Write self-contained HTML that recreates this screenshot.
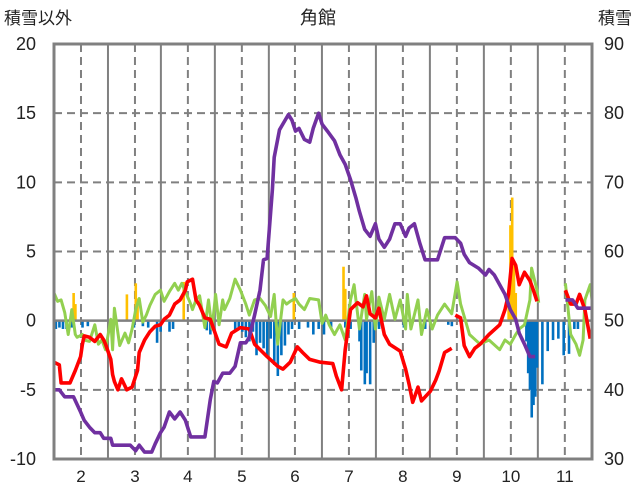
<!DOCTYPE html>
<html><head><meta charset="utf-8">
<style>
html,body{margin:0;padding:0;background:#fff;}
svg{display:block;font-family:"Liberation Sans","Noto Sans CJK JP",sans-serif;}
</style></head>
<body>
<svg id="chart" width="636" height="501" viewBox="0 0 636 501">
<text x="318" y="24" font-size="18" text-anchor="middle" fill="#222">角館</text>
<text x="4" y="24" font-size="17" fill="#222">積雪以外</text>
<text x="632" y="24" font-size="17" fill="#222" text-anchor="end">積雪</text>
</svg>
<script>
const leftTicks=[20,15,10,5,0,-5,-10];
const rightTicks=[90,80,70,60,50,40,30];
const monthLabels=["2","3","4","5","6","7","8","9","10","11"];
const monthCenters=[46.2,76.6,106.4,136.8,166.7,197.1,227.5,257.9,288.3,318.7];
const monthBounds=[61.4,91.2,121.6,152,181.9,212.3,242.7,273.1,303.5];

const purpleDays=[31,34,37,42,46,48,51,54,57,59,63,64,74,77,79,82,86,88,91,93,96,99,102,105,108,116,119,121,123,126,130,133,136,139,141,144,147,149,151,154,155,158,163,165,167,169,172,175,177,180,182,185,189,192,195,198,201,203,206,209,212,214,217,220,223,226,229,231,234,237,240,247,251,257,260,262,265,270,274,276,279,285,288,291,293,296,299,302,null,319,323,326,334];
const purpleVals=[-5,-5,-5.5,-5.5,-6.6,-7.2,-7.7,-8.1,-8.1,-8.5,-8.5,-9,-9,-9.4,-9,-9.5,-9.5,-8.9,-8.1,-7.7,-6.6,-7.1,-6.6,-7.2,-8.4,-8.4,-5.7,-4.4,-4.5,-3.8,-3.8,-3.3,-1.6,-1.6,-1.2,0.4,2.2,4.4,4.5,9.5,11.8,13.8,14.9,14.5,13.7,13.9,13.1,12.9,13.9,15,14.2,13.7,13,12,11.3,10.2,8.9,7.9,6.6,6.1,7,5.9,5.3,5.9,7,7,6.1,6.7,7,5.6,4.4,4.4,6,6,5.6,4.8,4.2,3.8,3.3,3.7,3.3,1.9,0.8,0.1,-0.9,-1.7,-2.6,-2.6,null,1.5,1.5,0.9,0.9];

const redDays=[31,34,35,40,43,46,47,48,51,54,57,59,60,63,64,65,67,69,72,75,78,79,82,85,88,91,93,96,99,102,105,106,109,111,113,116,119,122,124,128,131,136,141,144,151,157,160,164,168,171,175,181,188,190,193,195,198,202,205,207,209,212,214,217,220,226,229,231,233,236,238,243,246,248,251,255,null,257,260,262,265,268,271,276,282,285,287,289,291,293,296,299,301,303,null,319,322,325,327,330,333];
const redVals=[-3,-3.2,-4.5,-4.5,-3.6,-2.6,-1.7,-1.1,-1.2,-1.5,-1,-1.4,-1.7,-2.8,-3.9,-4.4,-5,-4.2,-5,-4.8,-3.6,-2.3,-1.4,-0.8,-0.4,-0.3,0.1,0.4,1.2,1.5,2.2,2.8,3,1.5,1.1,0.2,0.1,-1,-1.7,-1.9,-0.9,-0.5,-0.6,-1.7,-2.6,-3.3,-3.5,-3,-1.9,-2.3,-2.8,-3,-3.1,-4,-5,-2.1,0.8,1.3,1,1.8,0.5,0.2,0.9,-1,-1.7,-2.2,-3.5,-4.6,-5.9,-4.8,-5.8,-5.1,-4.3,-3.6,-2.3,-2,null,0.4,0.2,-1.8,-2.6,-2,-1.7,-1,-0.3,0.8,1.9,4.5,4,2.6,3.5,2.9,2.2,1.4,null,2.2,1.2,1.2,1.9,0.8,-1.3];

const greenDays=[31,33,35,37,39,41,43,44,47,48,51,54,56,58,60,63,64,65,68,71,73,75,77,79,81,83,85,88,91,93,96,99,101,103,105,108,109,111,113,116,118,120,122,124,126,127,130,133,136,139,141,144,147,150,153,155,157,160,162,164,167,169,172,175,180,182,184,186,189,192,195,198,200,203,206,207,210,212,214,217,220,223,226,229,230,232,236,238,241,244,247,251,255,258,260,265,271,276,282,285,288,291,293,296,299,300,303,304,null,319,322,325,327,329,330,333,334];
const greenVals=[2,1.4,1.5,0.6,-1,0.8,-1,-1.2,-1,-1.4,-1.5,-0.3,-1.7,-1.4,-2.1,0.1,-2.1,0.9,-1.8,-0.9,-1.6,-0.6,0.8,1.6,-0.1,0.4,1.1,1.9,2.2,1.4,2.1,2.7,2.2,2.7,2.1,1.2,0.8,1.5,1.8,-0.5,1.5,-0.6,1.9,-0.3,1.5,0.8,1.6,3,2.2,1.2,0.4,1.5,1.6,1.1,0.3,1.9,-1.7,1.5,1.2,1.4,1.6,1.2,0.8,1.6,1.5,-0.2,0.4,-0.3,-1,-0.3,-1.4,1.5,2.6,-0.6,1.9,0.1,2.1,-0.6,1.7,0.1,1.9,0.1,1.5,-0.6,1.9,-0.6,1.5,-1,0.8,-0.6,0.4,1.2,0.5,2.8,1.2,-1,-1.7,-1.4,-2.1,-1.4,-1.7,-1,-0.6,-0.3,1.5,3.8,2.2,1.3,null,2.7,-1,-1.7,-2.5,-1.4,1.5,2.6,1.5];

const barDays=[42,43,72,77,78,104,166,194,195,287,288,289,290,291,32,34,36,38,41,47,50,76,81,84,89,91,96,98,117,119,133,135,137,139,141,143,145,147,149,151,153,155,157,159,161,163,165,169,174,177,180,183,187,195,198,203,204,206,207,209,211,214,228,240,253,255,297,298,299,300,301,302,303,306,309,312,315,318,321,324,326];
const barVals=[2,1.2,1.9,2.7,1.6,2.8,2,3.9,2.3,2.2,6.9,8.9,4,2,-0.6,-0.5,-0.6,-0.6,-0.5,-0.5,-0.4,-0.5,-0.4,-0.5,-1.6,-0.8,-0.8,-0.6,-0.7,-1,-0.7,-0.5,-0.8,-1.2,-1.5,-0.8,-2.5,-1.6,-2,-2.6,-1.3,-3.2,-4,-2.5,-1.8,-1,-0.6,-0.6,-0.5,-1,-0.6,-1,-0.5,-0.5,-0.6,-1.5,-3.6,-4.6,-3.8,-4.6,-1.6,-0.6,-0.5,-0.6,-0.3,-0.4,-1.5,-3.8,-5,-7,-6.1,-5.5,-3.4,-4.6,-2.2,-1.4,-1.3,-2.5,-2.4,-0.6,-0.6];

const X0=54,X1=592,Y0=44,Y1=459;
const xS=d=>X0+(d-31)*(X1-X0)/303;
const yS=v=>Y1-(v+10)*(Y1-Y0)/30;
const svg=document.getElementById('chart');
const NS="http://www.w3.org/2000/svg";
function mk(tag,attrs){const e=document.createElementNS(NS,tag);for(const k in attrs)e.setAttribute(k,attrs[k]);svg.appendChild(e);return e;}

leftTicks.forEach(t=>{
  if(t===0||t===20||t===-10)return;
  const g=mk('line',{x1:X0,x2:X1,y1:yS(t),y2:yS(t),stroke:'#808080','stroke-width':2,'stroke-dasharray':'8,5'});
  
  
});
monthCenters.forEach(d=>{
  const g=mk('line',{x1:xS(d),x2:xS(d),y1:Y0,y2:Y1,stroke:'#808080','stroke-width':2,'stroke-dasharray':'8,5'});
  
  
});
monthBounds.forEach(d=>{
  const g=mk('line',{x1:xS(d),x2:xS(d),y1:Y0,y2:Y1,stroke:'#808080','stroke-width':2});
  
  
});
barDays.forEach((d,i)=>{
  const v=barVals[i];
  const y=Math.min(yS(0),yS(v)),h=Math.abs(yS(v)-yS(0));
  const b=mk('rect',{x:xS(d)-1.2,y:y,width:2.6,height:h,fill:v>0?'#FFC000':'#0070C0'});
  
  
});
const z=mk('line',{x1:X0,x2:X1,y1:yS(0),y2:yS(0),stroke:'#808080','stroke-width':2.5});



function path(days,vals,color,w,name){
  let d='',pen=false;
  days.forEach((dd,i)=>{
    if(dd===null||vals[i]===null){pen=false;return;}
    d+=(pen?'L':'M')+xS(dd).toFixed(1)+','+yS(vals[i]).toFixed(1);pen=true;
  });
  const p=mk('path',{d:d,fill:'none',stroke:color,'stroke-width':w,'stroke-linejoin':'round'});
  
  
}
path(greenDays,greenVals,'#92D050',3,'green-series-line');
path(redDays,redVals,'#FF0000',3.6,'red-series-line');
path(purpleDays,purpleVals,'#7030A0',3.6,'snow-depth-line');

const fr=mk('rect',{x:X0,y:Y0,width:X1-X0,height:Y1-Y0,fill:'none',stroke:'#808080','stroke-width':3});



leftTicks.forEach(t=>{
  const e=mk('text',{x:36,y:yS(t)+6,'font-size':18,'text-anchor':'end',fill:'#222'});
  e.textContent=t;
  
  
});
rightTicks.forEach((t,i)=>{
  const e=mk('text',{x:614,y:yS(leftTicks[i])+6,'font-size':18,'text-anchor':'middle',fill:'#222'});
  e.textContent=t;
  
  
});
monthLabels.forEach((m,i)=>{
  const e=mk('text',{x:xS(monthCenters[i]),y:482,'font-size':17,'text-anchor':'middle',fill:'#222'});
  e.textContent=m;
  
  
});
</script>
</body></html>
